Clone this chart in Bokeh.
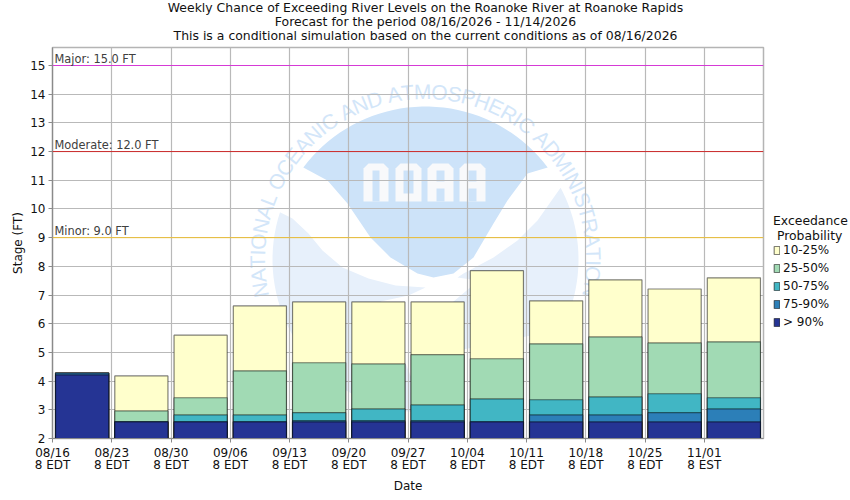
import numpy as np
from bokeh.plotting import figure
from bokeh.models import Label, Legend, LegendItem, LinearAxis, Span, ColumnDataSource, FixedTicker, Range1d
from bokeh.core.properties import value
from bokeh.embed import file_html
from bokeh.resources import INLINE

# ---- data -------------------------------------------------------------
week_dates = ["08/16", "08/23", "08/30", "09/06", "09/13", "09/20", "09/27", "10/04", "10/11", "10/18", "10/25", "11/01"]
week_zones = ["8 EDT", "8 EDT", "8 EDT", "8 EDT", "8 EDT", "8 EDT", "8 EDT", "8 EDT", "8 EDT", "8 EDT", "8 EDT", "8 EST"]
week_start_days = [0, 7, 14, 21, 28, 35, 42, 49, 56, 63, 70, 77]
p10_25 = [4.28, 4.18, 5.60, 6.62, 6.76, 6.76, 6.76, 7.85, 6.80, 7.53, 7.21, 7.60]
p25_50 = [4.28, 2.96, 3.42, 4.36, 4.64, 4.60, 4.92, 4.78, 5.30, 5.54, 5.33, 5.37]
p50_75 = [4.28, 2.58, 2.82, 2.82, 2.90, 3.03, 3.17, 3.38, 3.35, 3.45, 3.56, 3.42]
p75_90 = [4.28, 2.58, 2.58, 2.58, 2.62, 2.62, 2.62, 2.58, 2.82, 2.82, 2.90, 3.03]
p90 = [4.22, 2.58, 2.58, 2.58, 2.58, 2.58, 2.58, 2.58, 2.58, 2.58, 2.58, 2.58]
series_names = ["10-25%", "25-50%", "50-75%", "75-90%", "> 90%"]
series_colors = ["#ffffcc", "#a1dab4", "#41b6c4", "#2c7fb8", "#253494"]
thresholds = [("Major: 15.0 FT", 15.0, "#d63ad6"), ("Moderate: 12.0 FT", 12.0, "#cc2a2a"), ("Minor: 9.0 FT", 9.0, "#eec136")]
y_ticks = list(range(2, 16))
titles = ["Weekly Chance of Exceeding River Levels on the Roanoke River at Roanoke Rapids",
          "Forecast for the period 08/16/2026 - 11/14/2026",
          "This is a conditional simulation based on the current conditions as of 08/16/2026"]

# ---- frame ------------------------------------------------------------
FW, FH = 711, 391
X0, Y0 = 52, 438
PXD = FW / 84.0
PXV = 373 / 13.0
def dx(px):
    return (np.asarray(px, dtype=float) - X0) / PXD
def dy(py):
    return 2 + (Y0 - np.asarray(py, dtype=float)) / PXV

W, H = 848, 494
p = figure(output_backend="svg", toolbar_location=None,
           frame_width=FW, frame_height=FH, min_border_left=X0, min_border_right=W - X0 - FW, min_border_top=47,
           min_border_bottom=H - 47 - FH,
           x_range=Range1d(0, 84), y_range=Range1d(2, 2 + FH / PXV), background_fill_color="white",
           outline_line_color="#b4b4b4", outline_line_width=1.5)

# ---- NOAA watermark ---------------------------------------------------
BIRD, PALE, SEAL_TXT, LETTER = "#cde3f9", "#e7f0fb", "#d3e6f9", "#f8f9fb"
cx, cy, R = 425, 259, 153
def arc(a0, a1, n=40):
    t = np.radians(np.linspace(a0, a1, n))
    return cx + R * np.sin(t), cy - R * np.cos(t)
def poly(xs, ys, color):
    p.patch(dx(xs), dy(ys), fill_color=color, line_color=None, level="image")

ax, ay = arc(-53, 53)
bx = [527, 507, 493, 473, 453, 433, 417, 390, 370, 347, 327]
by = [173, 200, 223, 257, 273, 277, 273, 257, 237, 203, 180]
poly(list(ax) + bx, list(ay) + by, BIRD)

ax, ay = arc(-72, -180)
poly(list(ax) + [380, 408, 425, 395, 368, 342, 322, 308, 292],
     list(ay) + [301, 295, 287, 285, 278, 267, 250, 233, 218], PALE)
ax, ay = arc(117, 62)
poly(list(ax) + [537, 517, 493, 463, 457, 478, 440, 410],
     list(ay) + [220, 240, 257, 273, 277, 280, 312, 360], PALE)

def letter(x0, x1, y0=163, y1=201):
    c = 5
    poly([x0, x0, x0 + c, x1 - c, x1, x1], [y1, y0 + c, y0, y0, y0 + c, y1], LETTER)
letter(363, 388)
poly([372, 379, 379, 372], [170, 170, 201, 201], BIRD)
letter(395, 421, 163, 201)
poly([403, 413, 413, 403], [170, 170, 193, 193], BIRD)
for a0, a1 in [(427, 453), (459, 485)]:
    letter(a0, a1)
    s0, s1 = a0 + 9, a1 - 9
    poly([s0, s1, s1, s0], [170, 170, 181, 181], BIRD)
    poly([s0, s1, s1, s0], [188, 188, 201, 201], BIRD)

seal = "NATIONAL OCEANIC AND ATMOSPHERIC ADMINISTRATION"
adv = {"N": .72, "A": .67, "T": .61, "I": .28, "O": .78, "L": .56, " ": .28, "C": .72, "E": .67, "D": .72,
       "M": .83, "S": .67, "P": .67, "H": .72, "R": .72}
w = np.array([adv[ch] for ch in seal])
pos = (np.cumsum(w) - w / 2) / w.sum()
th = np.radians(-103 + 206 * pos)
Rt = 168
p.text(dx(cx + Rt * np.sin(th)), dy(cy - Rt * np.cos(th)), text=list(seal), angle=-th,
       text_font=value("Liberation Sans"), text_font_size="21px", text_color=SEAL_TXT,
       text_align="center", text_baseline="middle", level="image")

# ---- bars -------------------------------------------------------------
centers = [d + 3.5 for d in week_start_days]
items = []
for name, col, vals in zip(series_names, series_colors, [p10_25, p25_50, p50_75, p75_90, p90]):
    src = ColumnDataSource(dict(x=centers, top=vals, bottom=[2] * len(vals)))
    r = p.vbar(x="x", top="top", bottom="bottom", width=6.28, source=src, fill_color=col,
               line_color="black", line_alpha=0.5, line_width=1.2)
    items.append(LegendItem(label=name, renderers=[r]))

# ---- thresholds -------------------------------------------------------
for text, v, col in thresholds:
    p.add_layout(Span(location=v, dimension="width", line_color=col, line_width=1))
    p.add_layout(Label(x=0, y=v, text=text, x_offset=2, y_offset=0, text_font_size="11.4px",
                       text_font="DejaVu Sans", text_color="#404040", text_baseline="bottom"))

# ---- axes -------------------------------------------------------------
zone_axis = LinearAxis(axis_label="Date")
p.add_layout(zone_axis, "below")
p.xaxis[0].ticker = FixedTicker(ticks=week_start_days)
p.xaxis[0].major_label_overrides = dict(zip(week_start_days, week_dates))
zone_axis.ticker = FixedTicker(ticks=week_start_days)
zone_axis.major_label_overrides = dict(zip(week_start_days, week_zones))
p.yaxis.ticker = FixedTicker(ticks=y_ticks)
p.yaxis.axis_label = "Stage (FT)"
for ax_ in (p.xaxis[0], zone_axis, p.yaxis[0]):
    ax_.major_tick_in = 0
    ax_.major_tick_out = 4
    ax_.minor_tick_in = 0
    ax_.minor_tick_out = 0
    ax_.axis_line_color = "#8a8a8a"
    ax_.axis_line_width = 1.2
    ax_.major_tick_line_color = "#8a8a8a"
    ax_.major_label_text_font = "DejaVu Sans"
    ax_.major_label_text_font_size = "12px"
    ax_.major_label_text_color = "#111111"
    ax_.axis_label_text_font = "DejaVu Sans"
    ax_.axis_label_text_font_size = "12px"
    ax_.axis_label_text_font_style = "normal"
    ax_.axis_label_text_color = "#111111"
zone_axis.axis_line_color = None
zone_axis.major_tick_line_color = None
zone_axis.major_tick_out = 0
zone_axis.major_label_standoff = -5
zone_axis.axis_label_standoff = 4
p.xaxis[0].major_label_standoff = 3
p.yaxis[0].major_label_standoff = 3
p.yaxis[0].axis_label_standoff = 2
p.grid.grid_line_color = "#b9b9b9"
p.grid.grid_line_width = 1.2
p.grid.level = "underlay"

# ---- legend -----------------------------------------------------------
leg = Legend(items=items, location=(10, 109), background_fill_alpha=0, border_line_alpha=0,
             title="Exceedance\n\u00a0Probability", title_text_font="DejaVu Sans", title_text_font_size="12.4px",
             title_text_font_style="normal", title_text_color="#111111", title_standoff=0,
             glyph_width=7, glyph_height=10, spacing=4, padding=0, margin=0, label_standoff=3,
             label_text_font="DejaVu Sans", label_text_font_size="12px", label_text_color="#111111",
             label_height=10)
p.add_layout(leg, "right")

# ---- titles (side-panel labels stack outward from the frame, nearest line first) ----
for text, lift in zip(reversed(titles), [12, 11, 10]):
    p.add_layout(Label(x=425 - X0, y=lift, x_units="screen", y_units="screen", text=text, text_align="center",
                       text_baseline="middle", text_font="DejaVu Sans", text_font_size="12.45px",
                       text_color="#111111"), "above")

open("out.html", "w").write(file_html(p, INLINE))
